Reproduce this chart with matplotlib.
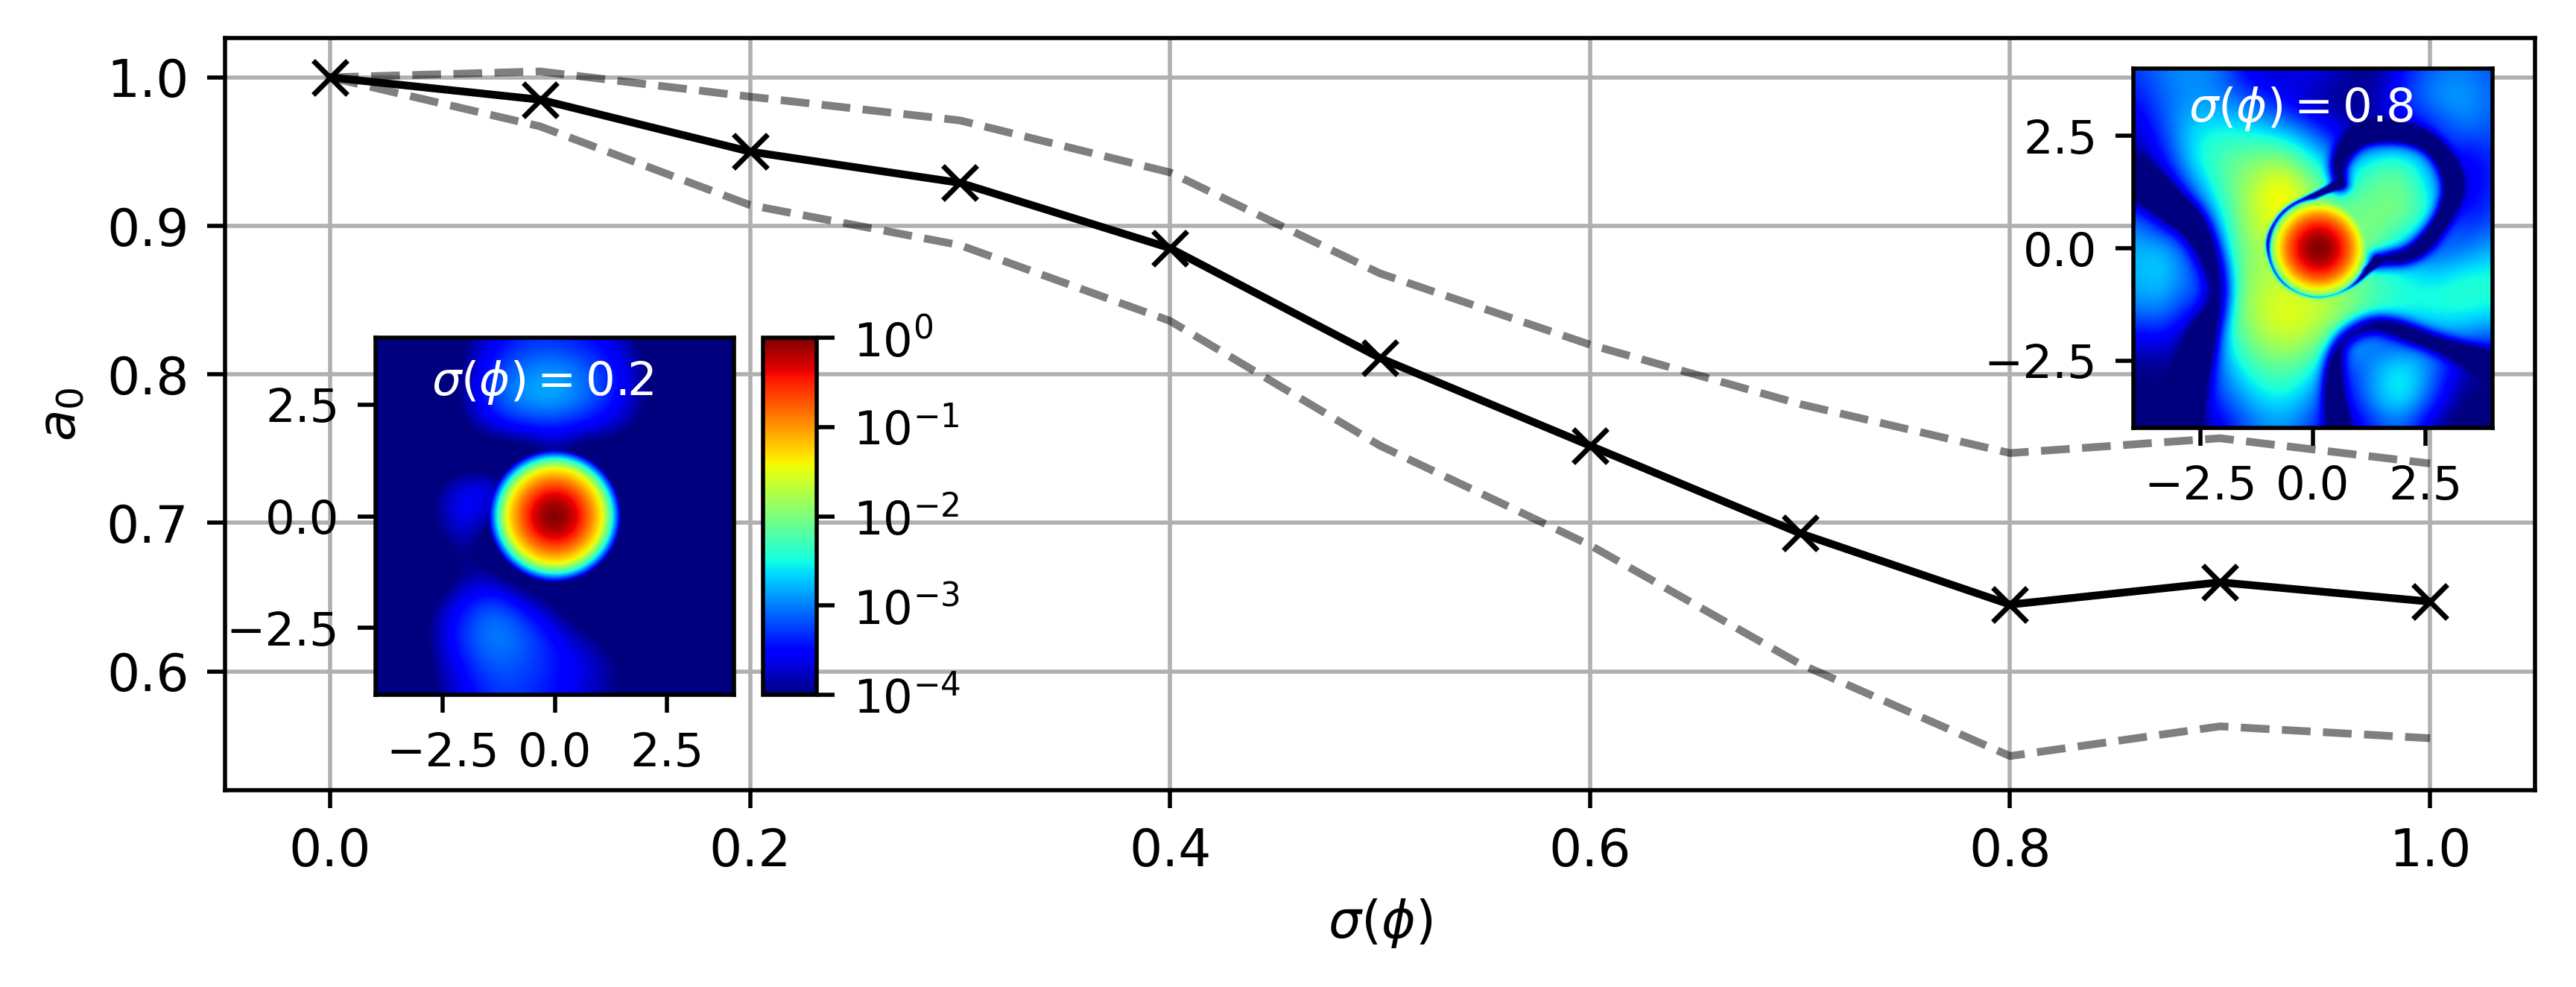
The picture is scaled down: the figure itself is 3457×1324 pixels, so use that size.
import numpy as np
import matplotlib
matplotlib.use("Agg")
import matplotlib.pyplot as plt
from matplotlib.colors import LogNorm

W, H, DPI = 3457, 1324, 500
sigma = [0.0, 0.1, 0.2, 0.3, 0.4, 0.5, 0.6, 0.7, 0.8, 0.9, 1.0]
a0_mean = [1.0, 0.985, 0.95, 0.929, 0.885, 0.811, 0.752, 0.693, 0.645, 0.66, 0.647]
a0_upper = [1.0, 1.004, 0.987, 0.971, 0.936, 0.868, 0.82, 0.78, 0.747, 0.757, 0.74]
a0_lower = [1.0, 0.967, 0.914, 0.887, 0.836, 0.752, 0.685, 0.605, 0.543, 0.563, 0.555]
x_ticks = [0.0, 0.2, 0.4, 0.6, 0.8, 1.0]
y_ticks = [0.6, 0.7, 0.8, 0.9, 1.0]
inset_ticks = [-2.5, 0.0, 2.5]
cbar_ticks = [1e-4, 1e-3, 1e-2, 1e-1, 1e0]

# log10 intensity, top row first, on a 13x13 grid over [-4, 4]^2
bg_08 = [
 [-3.3,-3.0,-2.9,-3.1,-3.8,-3.7,-3.5,-3.8,-4.0,-3.5,-3.1,-3.0,-3.2],
 [-3.5,-3.1,-2.9,-3.0,-3.2,-3.6,-3.9,-4.0,-3.9,-3.3,-2.9,-2.8,-3.1],
 [-3.8,-3.2,-2.6,-2.5,-2.6,-2.8,-3.2,-3.8,-3.8,-3.7,-3.5,-3.0,-3.2],
 [-4.0,-3.5,-2.5,-2.2,-2.0,-1.9,-2.5,-3.0,-2.4,-2.3,-3.0,-3.7,-3.3],
 [-4.0,-4.0,-3.0,-2.2,-1.7,-1.15,-1.9,-2.4,-2.1,-2.0,-2.6,-3.8,-3.3],
 [-3.0,-3.7,-3.6,-2.5,-1.6,-1.4,-1.9,-2.0,-2.0,-2.0,-2.5,-3.5,-3.2],
 [-2.8,-2.7,-3.3,-2.6,-1.8,-1.8,-2.0,-2.0,-2.0,-2.8,-3.3,-3.1,-2.8],
 [-2.8,-2.6,-3.2,-2.5,-1.8,-1.7,-1.9,-2.0,-2.3,-2.5,-2.6,-2.4,-2.4],
 [-3.0,-2.9,-3.5,-2.4,-1.7,-1.4,-1.5,-1.8,-2.2,-2.4,-2.4,-2.4,-2.5],
 [-3.6,-3.5,-4.0,-2.6,-1.9,-1.6,-1.8,-2.4,-3.2,-3.4,-3.0,-3.0,-3.2],
 [-4.0,-4.0,-3.8,-2.9,-2.3,-2.1,-2.4,-3.4,-2.9,-2.4,-3.0,-3.8,-4.0],
 [-4.0,-4.0,-3.6,-3.2,-2.7,-2.5,-2.9,-3.7,-2.8,-2.4,-3.2,-4.0,-4.0],
 [-4.0,-4.0,-3.9,-3.6,-3.1,-2.9,-3.3,-3.9,-3.4,-3.1,-3.9,-4.2,-4.2],
]
n = -4.5
bg_02 = [
 [n,n,n,-4.0,-3.6,-3.4,-3.4,-3.5,-3.7,-4.2,n,n,n],
 [n,n,n,-3.9,-3.3,-3.0,-2.9,-3.1,-3.4,-3.9,n,n,n],
 [n,n,n,-3.8,-3.1,-2.8,-2.7,-3.0,-3.4,-3.9,n,n,n],
 [n,n,n,-4.0,-3.6,-3.4,-3.4,-3.5,-3.7,-4.1,n,n,n],
 [n,n,n,n,n,n,-3.9,n,n,n,n,n,n],
 [n,n,-4.0,-3.5,-3.5,n,n,n,n,n,n,n,n],
 [n,n,-3.9,-3.4,-3.9,n,n,n,n,n,n,n,n],
 [n,n,-4.2,-3.8,n,n,n,n,n,n,n,n,n],
 [n,n,n,-3.9,-3.9,n,n,n,n,n,n,n,n],
 [n,n,-3.9,-3.4,-3.1,-3.5,-4.0,n,n,n,n,n,n],
 [n,n,-3.8,-3.2,-2.9,-3.1,-3.5,-3.9,-4.2,n,n,n,n],
 [n,n,-3.9,-3.4,-3.1,-3.2,-3.4,-3.6,-3.9,-4.2,n,n,n],
 [n,n,-4.0,-3.6,-3.3,-3.3,-3.5,-3.7,-4.0,-4.3,n,n,n],
]
blob_r_08 = [0.0, 0.25, 0.5, 0.7, 0.9, 1.05, 1.25]
blob_log_08 = [0.0, -0.12, -0.45, -0.85, -1.4, -2.0, -6.0]
blob_r_02 = [0.0, 0.26, 0.52, 0.78, 1.05, 1.26, 1.46, 1.56]
blob_log_02 = [0.0, -0.12, -0.4, -0.85, -1.4, -2.3, -3.6, -6.0]
ring_08 = [(0.6,1.44),(0.03,1.17),(-0.61,0.87),(-0.94,0.38),(-1.0,-0.03),(-0.74,-0.69),(-0.23,-0.99),
           (0.23,-1.05),(0.87,-0.81),(1.32,-0.39),(1.45,-0.27)]
trench_08 = [(1.45,-0.27),(2.29,-0.15),(2.94,0.69),(3.19,1.47),(2.74,2.31),(1.97,2.61),(1.0,2.55),(0.55,1.95),(0.6,1.44)]
left_08 = [(-4,1.6),(-3.2,1.0),(-2.55,0.45),(-2.16,-0.51),(-2.1,-1.17),(-2.42,-2.0),(-2.68,-2.92),(-2.9,-4)]
bottom_08 = [(0.55,-4),(0.42,-2.92),(0.55,-2.14),(1.0,-1.78),(1.58,-1.66),(2.6,-2.08),(4,-2.56)]

N = 401
ax_grid = np.linspace(-4, 4, N)
X, Y = np.meshgrid(ax_grid, ax_grid)

def upsample(grid):
    g = np.array(grid, float)[::-1]
    c = np.linspace(-4, 4, g.shape[0])
    a = np.array([np.interp(ax_grid, c, r) for r in g])
    b = np.array([np.interp(ax_grid, c, a[:, i]) for i in range(N)]).T
    k = np.ones(31) / 31
    for _ in range(2):
        b = np.array([np.convolve(np.pad(r, 15, mode='edge'), k, 'valid') for r in b])
        b = np.array([np.convolve(np.pad(r, 15, mode='edge'), k, 'valid') for r in b.T]).T
    return b

def chaikin(poly, it=3):
    p = np.array(poly, float)
    for _ in range(it):
        q = 0.75 * p[:-1] + 0.25 * p[1:]
        r = 0.25 * p[:-1] + 0.75 * p[1:]
        m = np.empty((2 * len(q), 2))
        m[0::2] = q
        m[1::2] = r
        p = np.vstack([p[:1], m, p[-1:]])
    return p

def dist(poly):
    p = chaikin(poly)
    d = np.full(X.shape, 1e9)
    for (x0, y0), (x1, y1) in zip(p[:-1], p[1:]):
        dx, dy = x1 - x0, y1 - y0
        t = np.clip(((X - x0) * dx + (Y - y0) * dy) / (dx * dx + dy * dy), 0, 1)
        d = np.minimum(d, np.hypot(X - x0 - t * dx, Y - y0 - t * dy))
    return d

r08 = np.hypot(X - 0.13, Y)
f08 = upsample(bg_08)
for poly, w, depth in [(trench_08, 0.22, 1.6), (left_08, 0.35, 1.3), (bottom_08, 0.24, 1.3), (ring_08, 0.07, 3.0)]:
    f08 = f08 - depth * np.exp(-(dist(poly) / w) ** 2)
f08 = np.maximum(f08, np.interp(r08, blob_r_08, blob_log_08))

r02 = np.hypot(X, Y)
f02 = np.maximum(upsample(bg_02), np.interp(r02, blob_r_02, blob_log_02))

plt.rcParams.update({'font.size': 10})
fig = plt.figure(figsize=(W / DPI, H / DPI), dpi=DPI)

def px_axes(l, t, r, b, **kw):
    return fig.add_axes([l / W, 1 - b / H, (r - l) / W, (b - t) / H], **kw)

ax = px_axes(302, 51, 3402, 1060)
ax.plot(sigma, a0_upper, '--', color='k', alpha=0.5, lw=1.5)
ax.plot(sigma, a0_lower, '--', color='k', alpha=0.5, lw=1.5)
ax.plot(sigma, a0_mean, '-x', color='k', lw=1.5, ms=6.5)
ax.set_xlim(-0.05, 1.05)
ax.set_ylim(0.52, 1.0265)
ax.set_xticks(x_ticks)
ax.set_yticks(y_ticks)
ax.grid(True)
ax.set_axisbelow(True)
ax.set_xlabel(r'$\sigma(\phi)$')
ax.set_ylabel(r'$a_0$')

norm = LogNorm(1e-4, 1)
for box, field, label, (tx, ty) in [((504, 453, 985, 932), f02, r'$\sigma(\phi)=0.2$', (-0.27, 3.0)),
                                    ((2863, 92, 3345, 574), f08, r'$\sigma(\phi)=0.8$', (-0.26, 3.1))]:
    ins = px_axes(*box, zorder=5)
    im = ins.imshow(10.0 ** field, extent=(-4, 4, -4, 4), origin='lower', cmap='jet', norm=norm,
                    aspect='auto', interpolation='bilinear')
    ins.set_xticks(inset_ticks)
    ins.set_yticks(inset_ticks)
    ins.tick_params(labelsize=9)
    ins.text(tx, ty, label, color='w', fontsize=9, ha='center', va='center')

cax = px_axes(1024, 453, 1096, 932, zorder=5)
cb = fig.colorbar(im, cax=cax)
cb.set_ticks(cbar_ticks)
cax.tick_params(labelsize=9)

fig.savefig('out.png', dpi=DPI)
